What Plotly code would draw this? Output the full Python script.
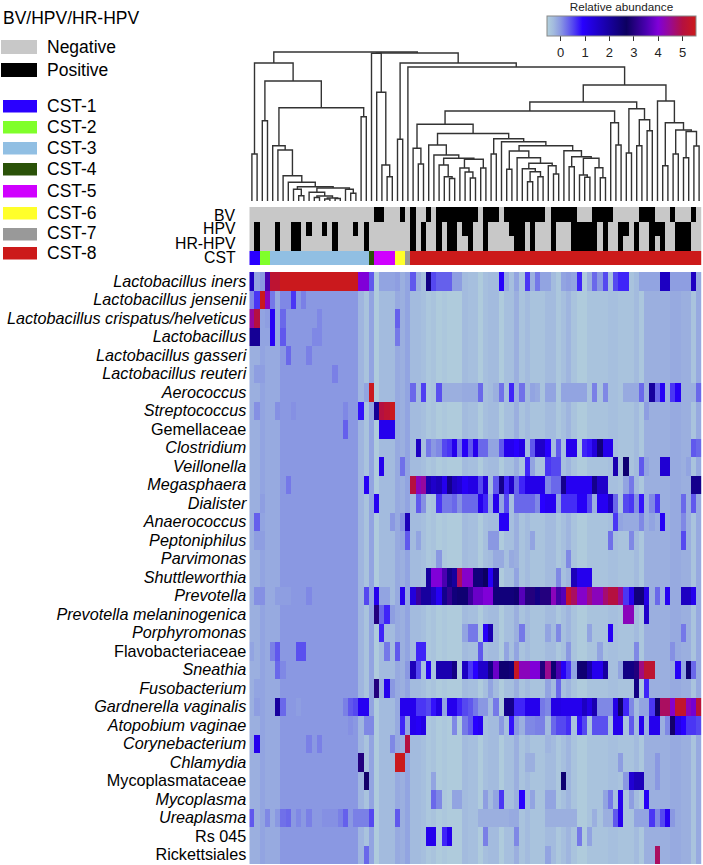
import plotly.graph_objects as go

W, H = 703, 865

taxa = ["<i>Lactobacillus iners</i>", "<i>Lactobacillus jensenii</i>", "<i>Lactobacillus crispatus/helveticus</i>",
        "<i>Lactobacillus</i>", "<i>Lactobacillus gasseri</i>", "<i>Lactobacillus reuteri</i>", "<i>Aerococcus</i>",
        "<i>Streptococcus</i>", "Gemellaceae", "<i>Clostridium</i>", "<i>Veillonella</i>", "<i>Megasphaera</i>",
        "<i>Dialister</i>", "<i>Anaerococcus</i>", "<i>Peptoniphilus</i>", "<i>Parvimonas</i>", "<i>Shuttleworthia</i>",
        "<i>Prevotella</i>", "<i>Prevotella melaninogenica</i>", "<i>Porphyromonas</i>", "Flavobacteriaceae",
        "<i>Sneathia</i>", "<i>Fusobacterium</i>", "<i>Gardnerella vaginalis</i>", "<i>Atopobium vaginae</i>",
        "<i>Corynebacterium</i>", "<i>Chlamydia</i>", "Mycoplasmataceae", "<i>Mycoplasma</i>", "<i>Ureaplasma</i>",
        "Rs 045", "Rickettsiales"]

# background abundance of each sample (column), read off the rows without signal
background = [-0.2, -0.2, -0.1, -0.15, -0.15, -0.15, 0, 0, 0, 0, 0, 0, 0, 0, 0, 0, 0, 0, 0, 0, 0,
              -0.25, -0.4, -0.1, -0.5, -0.3, -0.3, -0.3, -0.15, -0.2, -0.1, -0.3, -0.3, -0.35, -0.45, -0.4,
              -0.5, -0.45, -0.5, -0.5, -0.5, -0.3, -0.35, -0.35, -0.5, -0.35, -0.3, -0.3, -0.5, -0.35,
              -0.35, -0.2, -0.4, -0.3, -0.4, -0.4, -0.4, -0.3, -0.3, -0.45, -0.35, -0.25, -0.4, -0.5, -0.5,
              -0.4, -0.4, -0.4, -0.4, -0.35, -0.35, -0.4, -0.4, -0.4, -0.3, -0.45, -0.2, -0.2, -0.2, -0.2,
              -0.2, -0.15, -0.15, -0.2, -0.2, -0.4, -0.15]

# samples where a taxon rises above the background: {column: abundance}
iners = {0: 1.6, 1: -0.1, 2: 0, 3: 3.5, 4: 5.2, 5: 5.2, 6: 5.5, 7: 5.5, 8: 5.5, 9: 5.5, 10: 5.5, 11: 5.5, 12: 5.5,
         13: 5.5, 14: 5.5, 15: 5.5, 16: 5.5, 17: 5.5, 18: 5.5, 19: 5.5, 20: 5.5, 21: 4, 22: 4, 23: 0.4, 25: -0.1,
         26: -0.1, 27: -0.1, 28: -0.05, 31: 0.4, 32: -0.2, 34: 2.3, 35: 0.5, 36: 0.35, 37: 0.35, 38: 0.35, 39: -0.05,
         40: -0.05, 48: 0.95, 49: -0.15, 51: -0.1, 53: 0.6, 54: -0.2, 55: 0.2, 56: -0.1, 57: -0.1, 60: -0.1, 61: -0.05,
         62: -0.1, 63: 0.7, 65: -0.2, 66: 0.3, 67: 0, 68: 0.5, 70: 0.5, 71: 0.7, 72: 0.7, 75: -0.1, 76: -0.1, 77: -0.1,
         78: -0.1, 79: 1.6, 80: 1.6, 81: -0.05, 82: -0.05, 83: -0.05, 84: -0.05, 85: 1.6}
jensenii = {0: 0.1, 1: 0.6, 2: 5.5, 3: 4.2, 4: 0.2, 6: 0.1, 7: 0.1, 8: 0.6, 10: 0.15}
crispatus = {0: 4.4, 1: 5, 3: -0.05, 4: 1, 6: 0.3, 13: 0.1, 28: 0.35}
lacto = {0: 2.1, 1: 2.1, 3: -0.1, 4: 1, 6: 0.4, 12: 0.1, 13: 0.1, 28: 0.2}
gasseri = {7: 0.3, 11: 0.15}
reuteri = {1: -0.05, 2: -0.05, 16: 0.15}
aerococcus = {22: -0.1, 23: 5.5, 31: 0.3, 33: 0.55, 36: 0.45, 37: -0.2, 38: -0.2, 39: -0.2, 40: -0.2, 41: -0.15,
              42: -0.15, 43: -0.15, 44: 0.3, 47: -0.2, 48: 0.25, 50: 0.7, 52: 0.25, 54: -0.1, 55: -0.15, 57: -0.1,
              58: -0.1, 60: -0.1, 61: -0.1, 62: -0.1, 63: -0.1, 64: -0.1, 66: 0.15, 68: 0.1, 72: -0.15, 73: -0.15,
              74: -0.15, 75: 0.3, 77: 2, 78: 0.3, 79: 1, 81: 0.6, 82: 1, 83: -0.2, 84: -0.2, 85: -0.2, 86: 0.3}
streptococcus = {1: 0.05, 5: 0.05, 8: 0.05, 18: 0.1, 21: 0.8, 24: 2.1, 25: 5, 26: 5.2, 27: 5.5, 76: -0.05}
gemellaceae = {18: 0.35, 25: 1.1, 26: 1.1, 27: 1.1}
clostridium = {32: 1.6, 34: 0.2, 35: 0, 36: 0.1, 37: 0.5, 38: 0.6, 39: 1.1, 40: 0.2, 41: 1, 42: 0.4, 43: 1.1, 44: 0.3,
               45: 0.3, 46: -0.1, 47: -0.1, 48: 0.4, 49: 1.1, 50: 1.1, 51: 0.9, 52: 1.2, 54: 0.4, 55: 1.5, 56: 1.5,
               57: 0.9, 59: 0.4, 61: 1.1, 62: 1.1, 64: 0.7, 65: 0.8, 66: 1.3, 67: 2.4, 68: 1.1, 69: 1.1, 85: 0.4, 86: 0.3}
veillonella = {25: 1.1, 29: 0.25, 53: 0.7, 54: -0.1, 57: 0.6, 58: 0.5, 59: 0.5, 70: 1.8, 72: 2.5, 75: 0.4, 76: -0.1,
               79: 1.4, 80: 1.4, 84: -0.1}
megasphaera = {7: 0.2, 22: 1, 31: 5, 32: 4.2, 33: 4.4, 34: 1.8, 35: 1.5, 36: 1.7, 37: 1.1, 38: 2.2, 39: 1.6, 40: 1.4,
               41: 1, 42: 1.2, 43: 1.2, 44: 0.5, 45: 1.3, 46: -0.3, 47: 0.4, 48: 2.2, 49: 0.7, 50: 1.5, 51: 0.3, 52: 0.7,
               53: 1.15, 54: 1.15, 55: 1.15, 56: 1.15, 57: 0.1, 58: 0.3, 59: 0.3, 60: 2.2, 61: 1.05, 62: 1.05, 63: 1.05,
               64: 1.05, 65: 1.05, 66: 2.2, 67: 1.5, 68: 1.5, 72: -0.1, 73: 0.2, 85: 2.2, 86: 2.2}
dialister = {2: -0.05, 24: 1.05, 32: 0.4, 33: 0.05, 36: 0.6, 37: 0.2, 38: 0.2, 39: 0.3, 40: 0.05, 41: 0.3, 42: 0.3,
             43: 0.3, 44: 1.1, 45: 0.7, 46: -0.1, 47: 1.1, 48: -0.1, 49: 0.5, 51: 0.3, 52: 0.3, 53: 0.3, 54: 0.3, 55: 0.1,
             56: 0.9, 57: 1.05, 58: 1.05, 59: -0.1, 60: 0.65, 61: 0.65, 62: 0.65, 63: 1, 64: 1, 65: 0.5, 66: -0.2,
             67: 1.05, 68: 1.05, 69: 1.6, 70: 0.3, 72: 0.5, 73: 0.6, 74: 0.05, 75: 0.8, 77: 0.1, 78: 0.6, 83: 0.3, 85: 0.4}
anaerococcus = {1: 0.35, 27: 0, 29: 0.05, 30: 1.7, 48: 1, 49: 1, 70: 0.6, 71: -0.1, 72: -0.15, 73: -0.15, 74: -0.15,
                75: 0.1, 77: -0.1, 79: 1, 83: 0.1}
peptoniphilus = {1: -0.05, 2: -0.05, 29: -0.1, 30: 0.4, 32: -0.1, 46: 0, 47: 0, 54: -0.1, 69: 0.25, 73: 0.1, 83: 0.5}
parvimonas = {36: 0, 47: -0.15, 48: -0.15, 50: -0.15, 61: 0.1}
shuttleworthia = {34: 2, 35: 4, 36: 4, 37: 3.5, 38: 2.3, 39: 2, 40: 4.8, 41: 4.1, 42: 4.1, 43: 2.4, 44: 2.4, 45: 2.7,
                  46: 1, 47: 2.2, 51: -0.1, 59: 0.1, 62: 1.7, 63: 1.1, 64: 1.1, 65: 1.1}
prevotella = {1: 0.05, 2: 0.05, 5: -0.05, 6: -0.05, 7: -0.05, 11: 0.1, 22: 0.5, 24: 1.1, 25: -0.1, 26: -0.1, 29: 1.1,
              31: 1.3, 32: 3.3, 33: 2, 34: 2, 35: 1.6, 36: 1.05, 37: 2.2, 38: 3.2, 39: 2.4, 40: 2.5, 41: 2.5, 42: 3.3,
              43: 3.8, 44: 3.8, 45: 4, 46: 4, 47: 2.4, 48: 2.4, 49: 2.4, 50: 2.4, 51: 2.5, 52: 3.6, 53: 3, 54: 3, 55: 2.3,
              56: 3, 57: 3, 58: 4.2, 59: 3.4, 60: 3.6, 61: 5.3, 62: 4.8, 63: 4.1, 64: 4.1, 65: 4.6, 66: 4.2, 67: 4.2,
              68: 4.7, 69: 5, 70: 5, 71: 4.5, 72: 0.6, 73: 1.1, 74: 2.4, 75: 2.4, 76: 1.2, 78: 0.3, 80: 1.05, 83: 1.6,
              84: 1.6, 85: 1.1}
melaninogenica = {24: 3, 25: 0.3, 26: 0.7, 27: -0.05, 72: 4.2, 73: 4.2, 76: 1.5}
porphyromonas = {25: 0.7, 41: -0.1, 42: 0.2, 43: 0.2, 45: 1, 46: 1.8, 52: 0.2, 57: -0.1, 59: 0.1, 65: -0.1, 69: 1, 83: 0.2}
flavobacteriaceae = {0: -0.1, 4: 0.15, 5: 0.4, 9: 0.45, 10: 0.45, 11: 0, 12: 0, 14: 0, 15: 0, 16: 0, 26: 0.2, 28: 0.4,
                     32: 0.7, 33: 0.7, 44: 0.4, 49: -0.1, 51: -0.1, 61: 0, 67: -0.1, 74: 0.1, 81: 0.05}
sneathia = {5: 0.3, 6: 0.1, 30: 0, 31: 1.7, 32: 0.5, 34: 1, 36: 1.8, 37: 1.8, 38: 1.8, 39: 2.3, 41: 1.6, 42: 0.6, 43: 0.9,
            44: 1.5, 45: 1.5, 46: 2.3, 47: 3.8, 48: 2.5, 49: 2.5, 50: 2.4, 51: 5.4, 52: 4.2, 53: 4.2, 54: 4, 55: 4, 56: 3,
            57: 4.5, 58: 2.5, 59: 3.5, 60: 1, 61: 0.6, 62: -0.1, 63: 2.5, 64: 2.5, 65: 1.9, 66: 1.1, 67: 1.1, 68: 2,
            71: -0.1, 72: 2.3, 73: 2.3, 74: 3, 75: 4.6, 76: 5.2, 77: 5.2, 82: 1, 83: -0.1, 84: 2.5, 85: 0.3}
fusobacterium = {1: -0.1, 24: 3, 25: -0.2, 26: 1.1, 27: 0, 46: -0.1, 51: -0.2, 57: -0.1, 59: 0.3, 74: 2.3, 76: 0.7}
gardnerella = {1: -0.05, 5: 2, 6: 0.3, 9: -0.05, 14: 0, 18: 0.15, 19: 0.4, 20: 0.5, 21: 1.05, 22: 1.05, 29: 1.1, 30: 1.1,
               31: 1.1, 32: 0.6, 33: 0.6, 34: 0.5, 35: 0.8, 36: 1.2, 37: -0.1, 38: 1.1, 39: 1.1, 40: 0.7, 41: 0.5, 42: 0.4,
               43: 0.2, 44: 0, 45: 0, 47: 0.2, 49: 2.2, 50: 2.2, 51: 0.7, 52: 0.7, 53: 1.1, 54: 1.1, 55: 1.1, 56: 0.2,
               57: 0.1, 58: 1.2, 59: 1.2, 60: 1.1, 61: 1.1, 62: 1.1, 63: 1.1, 64: 1.6, 65: 1.2, 66: 1.8, 67: 0.1, 68: 0.1,
               69: 0.1, 70: 1.2, 71: 2.6, 72: 0.7, 73: 0.1, 75: -0.1, 76: -0.1, 77: 0.6, 78: 2.6, 79: 4.8, 80: 4.8, 81: 4.1,
               82: 5.3, 83: 5.3, 84: 4.2, 85: 3.9, 86: 5.1}
atopobium = {19: 0.05, 22: 0.1, 23: 0.1, 29: 0.7, 30: -0.1, 31: 1.1, 32: 1, 33: 1.2, 39: 0.1, 41: 0.2, 42: 0.4, 43: 0.9,
             44: 1.05, 48: 0, 50: 0.8, 51: 0, 52: -0.2, 53: 0.1, 54: 0.1, 55: 0.15, 56: 0.15, 58: 0.3, 59: 0.5, 60: 0.5,
             61: 0.65, 63: 0.8, 64: 0.5, 66: 0.45, 67: 0.45, 68: 0.45, 70: 1.1, 71: 1.1, 73: 0.4, 75: 1.1, 77: 1.1, 78: 1.1,
             80: 0.1, 81: 2.8, 82: 1.2, 83: 0.9, 84: 0.6, 85: 0.6, 86: 0.5}
corynebacterium = {1: 1.1, 11: 0.15, 13: 0.15, 27: 0.1, 30: 5, 57: -0.25}
chlamydia = {21: 3, 28: 5.5, 29: 5.5, 53: -0.2, 54: -0.2, 71: -0.05, 78: 0}
mycoplasmataceae = {22: 2.8, 35: -0.1, 60: 2.5, 72: 0, 73: 1.4, 74: 1.7, 75: 1.7, 78: 0}
mycoplasma = {35: 0.3, 36: 0.1, 39: -0.1, 40: -0.1, 45: -0.05, 47: -0.1, 48: 0.6, 52: 0.9, 54: -0.1, 57: -0.1, 58: -0.1,
              68: -0.1, 69: 0.2, 71: 1.1, 73: -0.05, 76: 1}
ureaplasma = {0: 0.4, 3: 0.1, 5: 0, 6: 0.25, 7: 0.3, 9: 0.1, 11: 0.15, 14: 0.05, 15: 0.05, 16: 0.05, 17: 0.15, 18: 0.35,
              20: 0.15, 21: 0.15, 22: 0.15, 23: 0.5, 28: 0.4, 44: -0.2, 45: -0.2, 46: -0.2, 47: -0.2, 48: -0.2, 49: -0.2,
              50: -0.15, 51: -0.15, 57: -0.2, 58: -0.2, 59: -0.2, 60: -0.2, 61: -0.2, 62: -0.2, 66: -0.2, 68: -0.2, 69: -0.2,
              70: 0.4, 71: 1.1, 74: -0.1, 75: -0.1, 76: -0.1, 77: 0.6, 78: 0.1, 79: 0.5, 80: 1.05, 81: 0}
rs045 = {34: 1.1, 35: 1.1, 37: 0.7, 38: 1.1, 45: 0.15, 51: 0.1, 63: 0.2, 65: -0.1}
rickettsiales = {22: 0.3, 57: -0.1, 78: 4.8}

peaks = [iners, jensenii, crispatus, lacto, gasseri, reuteri, aerococcus, streptococcus, gemellaceae, clostridium,
         veillonella, megasphaera, dialister, anaerococcus, peptoniphilus, parvimonas, shuttleworthia, prevotella,
         melaninogenica, porphyromonas, flavobacteriaceae, sneathia, fusobacterium, gardnerella, atopobium,
         corynebacterium, chlamydia, mycoplasmataceae, mycoplasma, ureaplasma, rs045, rickettsiales]

# samples that test positive in each annotation row
bv_positive = [24, 25, 29, 31, 34, 36, 37, 38, 39, 40, 41, 42, 43, 45, 46, 47, 49, 50, 51, 52, 53, 54, 55, 56,
               58, 59, 60, 61, 62, 66, 67, 68, 69, 75, 76, 77, 81, 85]
hpv_positive = [1, 5, 8, 9, 11, 14, 16, 20, 22, 31, 33, 36, 38, 39, 41, 42, 45, 50, 51, 52, 54, 58, 62, 63, 64, 65, 66,
                68, 71, 72, 74, 77, 78, 79, 82, 83, 84]
hr_positive = [1, 5, 8, 9, 16, 22, 31, 33, 36, 38, 39, 42, 45, 51, 52, 54, 58, 62, 63, 64, 65, 66, 68, 71, 74, 77, 79,
               82, 83, 84]
cst_sizes = [2, 2, 19, 1, 4, 2, 1, 56]
cst_names = ["CST-1", "CST-2", "CST-3", "CST-4", "CST-5", "CST-6", "CST-7", "CST-8"]
cst_colors = ["#2a00ff", "#80ff2a", "#91bfe3", "#2a5208", "#d000ff", "#ffff2a", "#999999", "#cc1a1a"]
status_names = ["Negative", "Positive"]
status_colors = ["#c8c8c8", "#000000"]

abundance_stops = [(-0.56, "#b2d0dc"), (-0.3, "#a3bbde"), (0, "#8a98e2"), (0.5, "#5548f0"), (0.9, "#2800ff"),
                   (1.8, "#1a00b0"), (2.7, "#0c0060"), (3.5, "#4a00b0"), (4.0, "#8000d8"), (4.5, "#9a0a90"),
                   (5.0, "#b51040"), (5.55, "#cc1a1a")]

# sample dendrogram: (merge height, left, right), a plain int is a leaf (column)
left_tree = (138, (47, 0, 1),
             (120, (80.3, 2, 3),
              (93.3, (55.3, 4, (51, 5, (25.3, 6, (18.7, 7, (14.3, (11.7, 8, (5.3, 9, 10)),
                                                    (13, (8.7, 11, (5, (3.5, 12, 13), (3, (2, 14, 15), (2.5, 16, 17)))),
                                                     (11.7, 18, (7.7, 19, 20)))))))),
               (84.3, 21, 22))))
mid_tree = (147.7, 23, (108.7, 24, (36, 25, (24.3, 26, 27))))
block_a = (76.7, (52.7, 31, (37, 32, 33)),
           (67.5, (56, 34, (46, 35, (42.7, (36, 36, (24.3, 37, (22.5, 38, 39))),
                                     (41.7, (33, 40, (29, 41, (23, 42, 43))), (33, 44, 45))))),
            (62.3, (47, 46, 47),
             (59.3, 48, (55.3,
                         (50, (31.7, 49, 50),
                          (43.3, 51, (37.7, (32.3, 52, (29.3, (19.3, 53, 54), (24.3, 55, 56))),
                                      (35.3, 57, (27, 58, 59))))),
                         (50.3, 60, (44.3, (34.3, 61, 62),
                                     (42.7, (26, 63, (23.7, 64, 65)), (33.3, 66, (23.3, 67, 68))))))))))
block_b = (92.3, (48, 72, 73), (81.3, (55.3, 74, 75), (70.3, 76, 77)))
block_c = (100, 78, (78.3, (35.3, 79, 80), (71, (47, 81, 82), (69.5, (43.3, 83, 84), (55, 85, 86)))))
right_tree = (148, mid_tree,
              (138, (61.7, 28, 29),
               (134, 30, (116, (99, (90, block_a, (78.3, 69, (56, 70, 71))), block_b), block_c))))
tree = (149, left_tree, right_tree)

n_cols = len(background)
z = []
for row in peaks:
    z.append([row.get(c, background[c]) for c in range(n_cols)])

# annotation rows: 0/1 status, 2.. CST class
cst_row = []
for k, size in enumerate(cst_sizes):
    cst_row += [k + 2] * size
annot = [[1 if c in pos else 0 for c in range(n_cols)] for pos in (bv_positive, hpv_positive, hr_positive)]
annot.append(cst_row)

tree_x, tree_y = [], []


def walk(node):
    if isinstance(node, int):
        return node, 0
    h, left, right = node
    lx, ly = walk(left)
    rx, ry = walk(right)
    tree_x.extend([lx, lx, rx, rx, None])
    tree_y.extend([ly, h, h, ry, None])
    return (lx + rx) / 2, h


walk(tree)

zmin, zmax = abundance_stops[0][0], abundance_stops[-1][0]
colorscale = [[(v - zmin) / (zmax - zmin), c] for v, c in abundance_stops]

annot_colors = status_colors + cst_colors
annot_scale = []
for k, c in enumerate(annot_colors):
    annot_scale.append([k / len(annot_colors), c])
    annot_scale.append([(k + 1) / len(annot_colors), c])

FONT = "Liberation Sans"
X_DOMAIN = [249.3 / W, 701.7 / W]


def ydom(top, bottom):
    return [1 - bottom / H, 1 - top / H]


fig = go.Figure()
fig.add_trace(go.Heatmap(
    z=z, x=list(range(n_cols)), y=list(range(len(taxa))), zmin=zmin, zmax=zmax, colorscale=colorscale,
    xgap=0, ygap=0, hoverinfo="skip",
    colorbar=dict(orientation="h", x=547 / W, xanchor="left", y=1 - 3 / H, yanchor="top",
                  lenmode="pixels", len=149, thicknessmode="pixels", thickness=20, xpad=0, ypad=0,
                  outlinecolor="#888888", outlinewidth=1, tickvals=[0, 1, 2, 3, 4, 5], ticks="outside", ticklen=5,
                  tickwidth=1, tickcolor="#333333", tickfont=dict(family=FONT, size=13, color="#222222"),
                  title=dict(text="Relative abundance", side="top", font=dict(family=FONT, size=11.7, color="#222222"))),
))
fig.add_trace(go.Heatmap(z=annot, xaxis="x2", yaxis="y2", zmin=-0.5, zmax=len(annot_colors) - 0.5,
                         colorscale=annot_scale, showscale=False, hoverinfo="skip"))
fig.add_trace(go.Scatter(x=tree_x, y=tree_y, xaxis="x3", yaxis="y3", mode="lines",
                         line=dict(color="#333333", width=1.4), hoverinfo="skip", showlegend=False))

hidden = dict(visible=False, fixedrange=True)
fig.update_layout(
    width=W, height=H, autosize=False, margin=dict(l=0, r=0, t=0, b=0), paper_bgcolor="white", plot_bgcolor="white",
    font=dict(family=FONT, color="black"), showlegend=False,
    xaxis=dict(domain=X_DOMAIN, range=[-0.5, n_cols - 0.5], **hidden),
    yaxis=dict(domain=ydom(272, 864), range=[len(taxa) - 0.5, -0.5], tickvals=list(range(len(taxa))), ticktext=taxa,
               ticks="", showgrid=False, zeroline=False, showline=False, ticklabelstandoff=2,
               tickfont=dict(family=FONT, size=16.2, color="black")),
    xaxis2=dict(domain=X_DOMAIN, range=[-0.5, n_cols - 0.5], anchor="y2", **hidden),
    yaxis2=dict(domain=ydom(207, 265), range=[3.5, -0.5], anchor="x2", **hidden),
    xaxis3=dict(domain=X_DOMAIN, range=[-0.5, n_cols - 0.5], anchor="y3", **hidden),
    yaxis3=dict(domain=ydom(51, 201), range=[0, 150], anchor="x3", **hidden),
)


def label(text, x, y, size, anchor="left"):
    fig.add_annotation(text=text, x=x / W, y=1 - y / H, xref="paper", yref="paper", xanchor=anchor, yanchor="middle",
                       showarrow=False, font=dict(family=FONT, size=size, color="black"), borderpad=0)


def swatch(color, x0, x1, y0, y1):
    fig.add_shape(type="rect", xref="paper", yref="paper", x0=x0 / W, x1=x1 / W, y0=1 - y1 / H, y1=1 - y0 / H,
                  fillcolor=color, line=dict(width=0))


label("BV/HPV/HR-HPV", 2, 18, 17.5)
for name, color, top in zip(status_names, status_colors, [40, 63]):
    swatch(color, 1, 37, top, top + 14)
    label(name, 46, top + 7, 17.5)
for name, color, top in zip(cst_names, cst_colors, [100, 121, 142, 163, 185, 207, 228, 247]):
    swatch(color, 3, 37, top, top + 12.5)
    label(name, 46, top + 5.5, 17.5)
for name, y in zip(["BV", "HPV", "HR-HPV", "CST"], [215, 229, 243, 258]):
    label(name, 237, y, 15.8, anchor="right")

# drop the browser's default page margin so the figure sits at the window's corner
fig.write_html("out.html", config={"displayModeBar": False}, post_script="document.body.style.margin='0';")
